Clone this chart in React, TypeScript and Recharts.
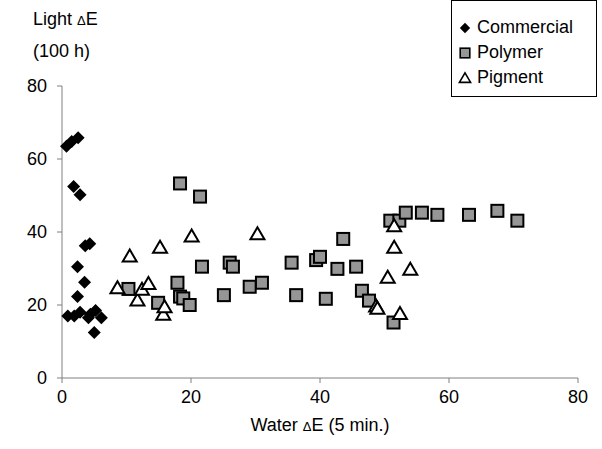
import { Scatter, ScatterChart, XAxis, YAxis } from "recharts";

type Pt = { x: number; y: number };

const commercialX = [0.7, 1.5, 2.5, 1.8, 2.8, 3.6, 4.3, 2.4, 3.5, 2.4, 0.9, 1.9, 2.8, 4.1, 4.4, 5.2, 6.1, 5.0];
const commercialY = [63.5, 64.8, 65.8, 52.5, 50.2, 36.2, 36.8, 30.5, 26.2, 22.3, 17.0, 17.0, 18.0, 16.5, 17.5, 18.5, 16.5, 12.5];

const polymerX = [
    10.3, 14.9, 17.9, 18.3, 18.8, 19.8, 18.3, 21.4, 21.7, 25.1, 26.0, 26.5, 29.1, 31.0, 35.6, 36.3, 39.4,
    40.0, 40.9, 42.7, 43.6, 45.6, 46.5, 47.6, 51.4, 50.9, 52.3, 53.3, 55.8, 58.2, 63.1, 67.5, 70.6,
];
const polymerY = [
    24.4, 20.6, 26.1, 22.3, 21.8, 20.0, 53.3, 49.7, 30.5, 22.7, 31.6, 30.5, 25.0, 26.1, 31.6, 22.7, 32.3,
    33.2, 21.7, 29.9, 38.1, 30.5, 23.9, 21.2, 15.2, 43.1, 43.1, 45.3, 45.3, 44.7, 44.7, 45.8, 43.1,
];

const pigmentX = [8.6, 10.5, 11.7, 12.4, 13.4, 15.2, 15.7, 15.9, 20.1, 30.3, 48.7, 48.9, 50.5, 51.5, 51.5, 52.4, 54.0];
const pigmentY = [24.7, 33.4, 21.4, 24.3, 25.9, 35.8, 17.5, 19.5, 38.9, 39.5, 19.7, 19.1, 27.6, 35.8, 41.7, 17.7, 29.8];

const axisTicks = [0, 20, 40, 60, 80];
const seriesNames = ["Commercial", "Polymer", "Pigment"];

function zip(xs: number[], ys: number[]): Pt[] {
    return xs.map((x, i) => ({ x, y: ys[i] }));
}

const commercial = zip(commercialX, commercialY);
const polymer = zip(polymerX, polymerY);
const pigment = zip(pigmentX, pigmentY);

const FONT = "'Liberation Sans', Arial, sans-serif";

function Diamond({ cx, cy }: any) {
    const r = 6.5;
    return <path d={`M${cx},${cy - r}L${cx + r},${cy}L${cx},${cy + r}L${cx - r},${cy}Z`} fill="#000" />;
}

function Square({ cx, cy }: any) {
    const h = 6;
    return <rect x={cx - h} y={cy - h} width={h * 2} height={h * 2} fill="#969696" stroke="#000" strokeWidth={2} />;
}

function Triangle({ cx, cy }: any) {
    return (
        <path
            d={`M${cx},${cy - 6.5}L${cx + 7},${cy + 5.5}L${cx - 7},${cy + 5.5}Z`}
            fill="#fff"
            stroke="#000"
            strokeWidth={2}
        />
    );
}

const legendIcons = [Diamond, Square, Triangle];

// x axis title, with the small delta like the original
function XTitle({ viewBox }: any) {
    const x = viewBox.x + viewBox.width / 2;
    const y = viewBox.y + viewBox.height - 18;
    return (
        <text x={x} y={y} textAnchor="middle" fill="#000" fontSize={18} fontFamily={FONT}>
            Water <tspan fontSize={13}>Δ</tspan>E (5 min.)
        </text>
    );
}

function LegendBox() {
    return (
        <div
            style={{
                position: "absolute",
                left: 451,
                top: 0,
                width: 146,
                height: 97,
                border: "1px solid #000",
                background: "#fff",
                padding: "14px 0 0 5px",
                fontFamily: FONT,
                fontSize: 18,
                boxSizing: "border-box",
            }}
        >
            {seriesNames.map((name, i) => {
                const Icon = legendIcons[i];
                return (
                    <div key={name} style={{ display: "flex", alignItems: "center", height: 25 }}>
                        <svg width={16} height={16} style={{ marginRight: 4 }}>
                            <g transform="translate(8,8) scale(0.8)">
                                <Icon cx={0} cy={0} />
                            </g>
                        </svg>
                        <span>{name}</span>
                    </div>
                );
            })}
        </div>
    );
}

export default function App() {
    return (
        <div style={{ position: "fixed", left: 0, top: 0, width: 602, height: 449, background: "#fff" }}>
            <ScatterChart
                width={602}
                height={449}
                margin={{ top: 86, right: 24, bottom: 0, left: 0 }}
                style={{ fontFamily: FONT }}
            >
                <XAxis
                    type="number"
                    dataKey="x"
                    domain={[0, 80]}
                    ticks={axisTicks}
                    height={71}
                    stroke="#808080"
                    tickSize={5}
                    tickMargin={7}
                    tick={{ fill: "#000", fontSize: 18 }}
                    label={<XTitle />}
                />
                <YAxis
                    type="number"
                    dataKey="y"
                    domain={[0, 80]}
                    ticks={axisTicks}
                    width={62}
                    stroke="#808080"
                    tickSize={5}
                    tickMargin={10}
                    tick={{ fill: "#000", fontSize: 18 }}
                />
                <Scatter name="Commercial" data={commercial} shape={Diamond} isAnimationActive={false} />
                <Scatter name="Polymer" data={polymer} shape={Square} isAnimationActive={false} />
                <Scatter name="Pigment" data={pigment} shape={Triangle} isAnimationActive={false} />
            </ScatterChart>
            <div
                style={{
                    position: "absolute",
                    left: 33,
                    top: 4,
                    fontFamily: FONT,
                    fontSize: 18,
                    lineHeight: "30px",
                    color: "#000",
                }}
            >
                <div>
                    Light <span style={{ fontSize: 13 }}>Δ</span>E
                </div>
                <div>(100 h)</div>
            </div>
            <LegendBox />
        </div>
    );
}
